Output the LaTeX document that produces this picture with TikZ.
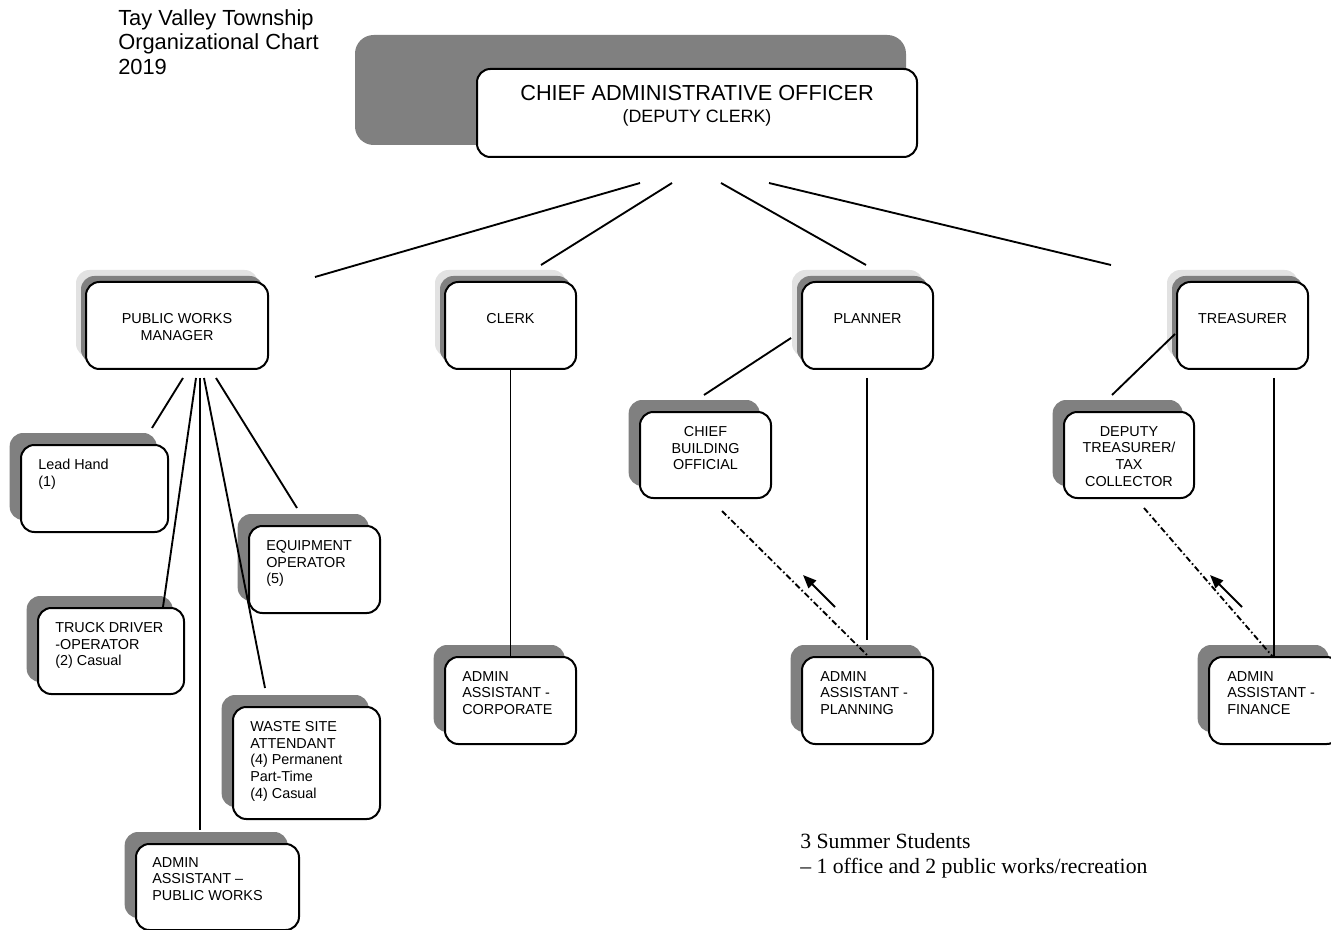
\documentclass[tikz,border=0pt]{standalone}
\usepackage{fontspec}
\setmainfont{Liberation Sans}
\newfontfamily\notefont{Liberation Serif}
\usetikzlibrary{arrows.meta, shadows}
\definecolor{ShadeDark}{HTML}{808080}
\definecolor{ShadeLight}{HTML}{E2E2E2}

\tikzset{
  rolebox/.style={draw, line width=1.5pt, rounded corners=10pt, fill=white, inner sep=0pt,
    anchor=north west, minimum width=98.25pt, minimum height=65.25pt},
  headshade/.style={general shadow={fill=ShadeLight, shadow xshift=-7.5pt, shadow yshift=9pt},
    general shadow={fill=ShadeDark, shadow xshift=-3.75pt, shadow yshift=4.5pt}},
  unitshade/.style={general shadow={fill=ShadeDark, shadow xshift=-8.5pt, shadow yshift=9pt}},
  roletext/.style={inner sep=0pt, font=\fontsize{10.8}{12.6}\selectfont},
  link/.style={line width=1.4pt},
  dotlink/.style={line width=1.4pt, dash pattern=on 4.5pt off 2pt on 1.2pt off 2pt},
  cue/.style={line width=1.5pt, -{Triangle[length=10pt, width=8pt]}},
}

\begin{document}
\begin{tikzpicture}[x=0.75pt, y=-0.75pt]
    \useasboundingbox (0,0) rectangle (1331,930);

    % === title ===
    \node[anchor=north west, inner sep=0pt, align=left, font=\fontsize{16.4}{18.4}\selectfont]
        (title) at (118,9) {Tay Valley Township\\Organizational Chart\\2019};

    % === chief administrative officer ===
    \fill[ShadeDark, rounded corners=14pt] (355,35) rectangle (906,145);
    \node[rolebox, minimum width=330pt, minimum height=66pt] (cao) at (476,68) {};
    \node[inner sep=0pt, anchor=north, align=center, font=\fontsize{16.3}{16.2}\selectfont]
        (cao-t) at ([shift={(0,17)}]cao.north)
        {CHIEF ADMINISTRATIVE OFFICER\\{\fontsize{13.4}{16.2}\selectfont (DEPUTY CLERK)}};

    % === department heads ===
    \node[rolebox, headshade, minimum width=136.5pt] (pw) at (85,281) {};
    \node[roletext, anchor=north, align=center] (pw-t) at ([shift={(0,32)}]pw.north) {PUBLIC WORKS\\MANAGER};

    \node[rolebox, headshade] (clerk) at (444,281) {};
    \node[roletext, anchor=north] (clerk-t) at ([shift={(0,32)}]clerk.north) {CLERK};

    \node[rolebox, headshade] (planner) at (801,281) {};
    \node[roletext, anchor=north] (planner-t) at ([shift={(0,32)}]planner.north) {PLANNER};

    \node[rolebox, headshade] (treas) at (1176,281) {};
    \node[roletext, anchor=north] (treas-t) at ([shift={(0,32)}]treas.north) {TREASURER};

    % === public works staff ===
    \node[rolebox, unitshade, minimum width=110.25pt] (lead) at (20,444) {};
    \node[roletext, anchor=north west, align=left] (lead-t) at ([shift={(18,15)}]lead.north west) {Lead Hand\\(1)};

    \node[rolebox, unitshade] (equip) at (248,525) {};
    \node[roletext, anchor=north west, align=left] (equip-t) at ([shift={(18,15)}]equip.north west) {EQUIPMENT\\OPERATOR\\(5)};

    \node[rolebox, unitshade, minimum width=109.5pt, minimum height=64.5pt] (truck) at (37,607) {};
    \node[roletext, anchor=north west, align=left] (truck-t) at ([shift={(18,15)}]truck.north west) {TRUCK DRIVER\\-OPERATOR\\(2) Casual};

    \node[rolebox, unitshade, minimum width=110.25pt, minimum height=84pt] (waste) at (232,706) {};
    \node[roletext, anchor=north west, align=left] (waste-t) at ([shift={(18,15)}]waste.north west)
        {WASTE SITE\\ATTENDANT\\(4) Permanent\\Part-Time\\(4) Casual};

    \node[rolebox, unitshade, minimum width=122.25pt, minimum height=64.5pt] (admpw) at (135,843) {};
    \node[roletext, anchor=north west, align=left] (admpw-t) at ([shift={(17,14)}]admpw.north west) {ADMIN\\ASSISTANT –\\PUBLIC WORKS};

    % === other staff ===
    \node[rolebox, unitshade, minimum height=64.5pt] (cbo) at (639,411) {};
    \node[roletext, anchor=north, align=center] (cbo-t) at ([shift={(0,15)}]cbo.north) {CHIEF\\BUILDING\\OFFICIAL};

    \node[rolebox, unitshade, minimum width=97.5pt, minimum height=64.5pt] (deptr) at (1063,411) {};
    \node[roletext, anchor=north, align=center] (deptr-t) at ([shift={(0,15)}]deptr.north) {DEPUTY\\TREASURER/\\TAX\\COLLECTOR};

    \node[rolebox, unitshade] (admcorp) at (444,656) {};
    \node[roletext, anchor=north west, align=left] (admcorp-t) at ([shift={(18,15)}]admcorp.north west) {ADMIN\\ASSISTANT -\\CORPORATE};

    \node[rolebox, unitshade] (admplan) at (801,656) {};
    \node[roletext, anchor=north west, align=left] (admplan-t) at ([shift={(19,15)}]admplan.north west) {ADMIN\\ASSISTANT -\\PLANNING};

    \node[rolebox, unitshade] (admfin) at (1208,656) {};
    \node[roletext, anchor=north west, align=left] (admfin-t) at ([shift={(19,15)}]admfin.north west) {ADMIN\\ASSISTANT -\\FINANCE};

    % === note ===
    \node[anchor=north west, inner sep=0pt, align=left, font=\notefont\fontsize{16.3}{18.75}\selectfont]
        (note) at (800,833) {3 Summer Students\\– 1 office and 2 public works/recreation};

    % === connectors from the CAO ===
    \coordinate (cao-a) at (640,183);   \coordinate (pw-in) at (315,277);
    \coordinate (cao-b) at (672,183);   \coordinate (clerk-in) at (541,265);
    \coordinate (cao-c) at (721,183);   \coordinate (planner-in) at (866,265);
    \coordinate (cao-d) at (769,183);   \coordinate (treas-in) at (1111,265);
    \draw[link] (cao-a) -- (pw-in);
    \draw[link] (cao-b) -- (clerk-in);
    \draw[link] (cao-c) -- (planner-in);
    \draw[link] (cao-d) -- (treas-in);

    % === public works fan ===
    \coordinate (pw-a) at (183,378);    \coordinate (lead-in) at (152,428);
    \coordinate (pw-b) at (196,378);    \coordinate (truck-in) at (163,607);
    \coordinate (pw-c) at (200,378);    \coordinate (admpw-in) at (200,830);
    \coordinate (pw-d) at (204,378);    \coordinate (waste-in) at (265,688);
    \coordinate (pw-e) at (216,378);    \coordinate (equip-in) at (297,508);
    \draw[link] (pw-a) -- (lead-in);
    \draw[link] (pw-b) -- (truck-in);
    \draw[link] (pw-c) -- (admpw-in);
    \draw[link] (pw-d) -- (waste-in);
    \draw[link] (pw-e) -- (equip-in);

    % === clerk ===
    \draw[link] (clerk.south) -- (clerk.south |- admcorp.north);

    % === planner ===
    \coordinate (planner-a) at (791,338);   \coordinate (cbo-in) at (704,395);
    \coordinate (planner-b) at (867,378);   \coordinate (admplan-in) at (867,640);
    \coordinate (cbo-out) at (722,511);     \coordinate (admplan-top) at (867,655);
    \coordinate (plan-cue-a) at (835,607);  \coordinate (plan-cue-b) at (803,575);
    \draw[link] (planner-a) -- (cbo-in);
    \draw[link] (planner-b) -- (admplan-in);
    \draw[dotlink] (cbo-out) -- (admplan-top);
    \draw[cue] (plan-cue-a) -- (plan-cue-b);

    % === treasurer ===
    \coordinate (treas-a) at (1175,334);    \coordinate (deptr-in) at (1112,395);
    \coordinate (treas-b) at (1274,378);    \coordinate (admfin-in) at (1274,656);
    \coordinate (deptr-out) at (1144,508);  \coordinate (admfin-top) at (1273,657);
    \coordinate (fin-cue-a) at (1242,607);  \coordinate (fin-cue-b) at (1210,575);
    \draw[link] (treas-a) -- (deptr-in);
    \draw[link] (treas-b) -- (admfin-in);
    \draw[dotlink] (deptr-out) -- (admfin-top);
    \draw[cue] (fin-cue-a) -- (fin-cue-b);

\end{tikzpicture}
\end{document}
